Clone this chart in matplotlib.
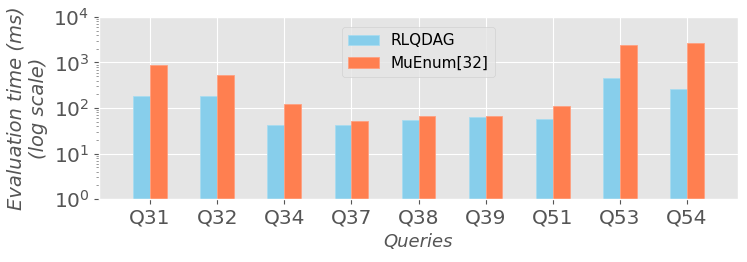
import matplotlib
matplotlib.use("Agg")
import matplotlib.pyplot as plt
import matplotlib.ticker as mticker
import numpy as np

plt.style.use("ggplot")

queries = ["Q31", "Q32", "Q34", "Q37", "Q38", "Q39", "Q51", "Q53", "Q54"]
rlqdag = [186, 183, 42, 42, 54, 64, 58, 464, 260]
muenum = [880, 540, 120, 52, 66, 66, 109, 2400, 2700]

fig = plt.figure(figsize=(7.47, 2.62), dpi=100)
ax = fig.add_axes([99/747, 1-199/262, (738-99)/747, (199-17)/262])

x = np.arange(len(queries))
w = 0.25
ax.bar(x - w/2, rlqdag, w, color="skyblue", edgecolor="#a8dcf0", linewidth=0.6, label="RLQDAG")
ax.bar(x + w/2, muenum, w, color="coral", edgecolor="#ffa080", linewidth=0.6, label="MuEnum[32]")

ax.set_yscale("log")
ax.set_ylim(1, 1e4)
ax.yaxis.set_major_locator(mticker.LogLocator(base=10, numticks=10))
ax.yaxis.set_minor_locator(mticker.LogLocator(base=10, subs=np.arange(2, 10) * 1.0, numticks=10))
ax.yaxis.set_minor_formatter(mticker.NullFormatter())
ax.tick_params(axis="y", which="minor", length=2.5, width=0.6, color="#888888")
ax.set_xlim(-0.76, 8.76)
ax.set_xticks(x)
ax.set_xticklabels(queries, fontsize=14.5, color="#555555")
ax.tick_params(axis="y", labelsize=14.5, labelcolor="#555555")
ax.set_ylabel("Evaluation time (ms)\n(log scale)", fontsize=14, style="italic", color="#555555")
ax.set_xlabel("Queries", fontsize=13, style="italic", color="#555555", labelpad=4)
ax.legend(loc="upper center", bbox_to_anchor=(0.5, 0.985), fontsize=11)

fig.savefig("out.png", dpi=100)
